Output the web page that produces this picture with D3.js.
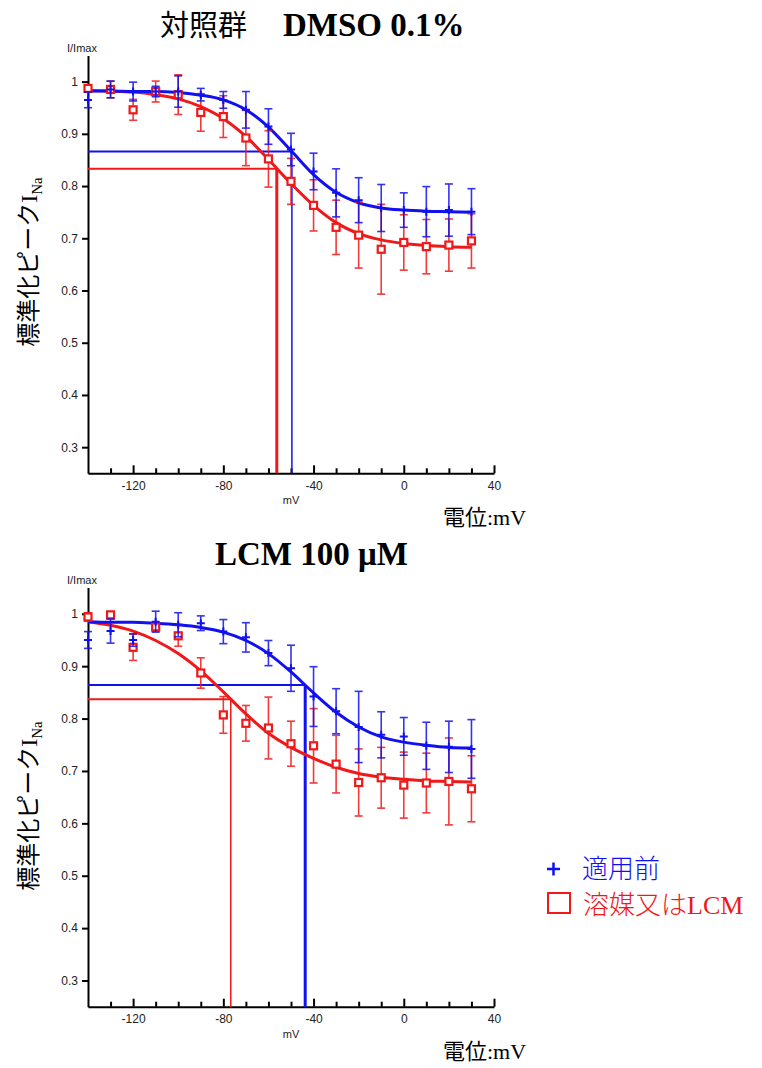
<!DOCTYPE html>
<html>
<head>
<meta charset="utf-8">
<script src="https://cdn.jsdelivr.net/npm/d3@7"></script>
<style>
  body { margin: 0; background: #fff; }
  .tick text { font-family: "Liberation Sans", Arial, sans-serif; font-size: 12px; fill: #222; }
</style>
</head>
<body>
<svg id="chart" width="762" height="1068"></svg>
<script>
// membrane potential steps (mV)
const mV = [-140, -130, -120, -110, -100, -90, -80, -70, -60, -50, -40, -30, -20, -10, 0, 10, 20, 30];

// control group, DMSO 0.1%
const ctrlPre     = [0.965, 0.985, 0.981, 0.981, 0.981, 0.975, 0.965, 0.946, 0.914, 0.870, 0.828, 0.787, 0.773, 0.758, 0.754, 0.751, 0.754, 0.751];
const ctrlPreErr  = [0.015, 0.016, 0.018, 0.010, 0.030, 0.012, 0.016, 0.035, 0.034, 0.031, 0.035, 0.046, 0.043, 0.045, 0.033, 0.048, 0.050, 0.044];
const ctrlPost    = [0.987, 0.985, 0.946, 0.981, 0.975, 0.941, 0.933, 0.892, 0.852, 0.809, 0.763, 0.721, 0.706, 0.679, 0.692, 0.684, 0.687, 0.695];
const ctrlPostErr = [0.006, 0.016, 0.020, 0.020, 0.038, 0.036, 0.040, 0.053, 0.054, 0.044, 0.049, 0.052, 0.063, 0.086, 0.053, 0.052, 0.050, 0.052];
const ctrlPreFit  = [0.982, 0.982, 0.981, 0.981, 0.979, 0.974, 0.965, 0.946, 0.913, 0.868, 0.822, 0.788, 0.768, 0.758, 0.754, 0.752, 0.751, 0.750];
const ctrlPostFit = [0.983, 0.982, 0.980, 0.975, 0.967, 0.952, 0.929, 0.895, 0.851, 0.805, 0.763, 0.730, 0.709, 0.697, 0.690, 0.686, 0.684, 0.683];
const ctrlV50     = [-49.6, -56.3];   // pre, post
const ctrlHalfI   = [0.866, 0.833];

// LCM 100 uM
const lcmPre      = [0.950, 0.967, 0.950, 0.985, 0.979, 0.982, 0.966, 0.955, 0.925, 0.896, 0.842, 0.814, 0.784, 0.769, 0.766, 0.748, 0.746, 0.742];
const lcmPreErr   = [0.016, 0.023, 0.012, 0.020, 0.023, 0.014, 0.023, 0.028, 0.024, 0.044, 0.057, 0.043, 0.068, 0.044, 0.036, 0.045, 0.049, 0.056];
const lcmPost     = [0.994, 0.998, 0.936, 0.975, 0.958, 0.887, 0.807, 0.791, 0.782, 0.752, 0.748, 0.713, 0.678, 0.687, 0.673, 0.677, 0.680, 0.666];
const lcmPostErr  = [0.008, 0.005, 0.025, 0.008, 0.020, 0.029, 0.035, 0.034, 0.059, 0.043, 0.071, 0.055, 0.064, 0.058, 0.063, 0.057, 0.083, 0.063];
const lcmPreFit   = [0.985, 0.984, 0.984, 0.982, 0.979, 0.974, 0.965, 0.949, 0.924, 0.889, 0.849, 0.812, 0.784, 0.765, 0.755, 0.749, 0.745, 0.744];
const lcmPostFit  = [0.985, 0.978, 0.967, 0.949, 0.924, 0.891, 0.851, 0.809, 0.772, 0.745, 0.724, 0.707, 0.695, 0.688, 0.684, 0.681, 0.680, 0.679];
const lcmV50      = [-43.7, -76.7];
const lcmHalfI    = [0.864, 0.837];

// axis ticks
const xMajor = [-120, -80, -40, 0, 40];
const xMinor = [-130, -110, -100, -90, -70, -60, -50, -30, -20, -10, 10, 20, 30];
const yTicks = [0.3, 0.4, 0.5, 0.6, 0.7, 0.8, 0.9, 1];

const BLUE = "#1010f0", RED = "#f01818";
const svg = d3.select("#chart");
const x = d3.scaleLinear().domain([-140, 40]).range([88, 494]);

function drawPanel(p) {
    const y = d3.scaleLinear().domain([0.25, 1.05]).range([p.bottom, p.top]);
    const g = svg.append("g");

    // title
    const t = g.append("text").attr("y", p.titleY).attr("fill", "#000");
    p.title.forEach(part => {
        t.append("tspan").attr("x", part.x)
            .attr("font-family", part.cjk ? "'Noto Sans CJK JP'" : "'Liberation Serif', serif")
            .attr("font-weight", part.cjk ? "normal" : "bold")
            .attr("font-size", part.cjk ? 29 : 33)
            .text(part.s);
    });

    // axes
    g.append("g").attr("transform", "translate(88,0)")
        .call(d3.axisLeft(y).tickValues(yTicks).tickSizeInner(6).tickSizeOuter(0).tickPadding(4)
            .tickFormat(d => d === 1 ? "1" : d.toFixed(1)));
    g.append("g").attr("transform", `translate(0,${p.bottom})`)
        .call(d3.axisBottom(x).tickValues(xMajor).tickSizeInner(-8).tickSizeOuter(0).tickPadding(8)
            .tickFormat(d => String(d)));
    g.append("g").attr("transform", `translate(0,${p.bottom})`)
        .call(d3.axisBottom(x).tickValues(xMinor).tickSizeInner(-5).tickSizeOuter(0).tickFormat(""))
        .select(".domain").remove();
    g.selectAll(".domain, .tick line").attr("stroke", "#000").attr("stroke-width", 2);

    g.append("text").attr("x", 67).attr("y", p.top - 4)
        .attr("font-family", "'Liberation Sans', Arial").attr("font-size", 11).attr("fill", "#222")
        .text("I/Imax");
    g.append("text").attr("x", 291).attr("y", p.bottom + 31).attr("text-anchor", "middle")
        .attr("font-family", "'Liberation Sans', Arial").attr("font-size", 11).attr("fill", "#222")
        .text("mV");
    g.append("text").attr("x", 443).attr("y", p.bottom + 52)
        .attr("font-family", "'Liberation Serif', 'Noto Sans CJK JP', serif").attr("font-size", 22)
        .text("電位:mV");

    const yl = g.append("text")
        .attr("transform", `translate(37,${p.labelY}) rotate(-90)`)
        .attr("text-anchor", "middle")
        .attr("font-family", "'Liberation Serif', 'Noto Sans CJK JP', serif").attr("font-size", 24);
    yl.append("tspan").attr("font-family", "'Noto Sans CJK JP'").text("標準化ピーク");
    yl.append("tspan").text("I");
    yl.append("tspan").attr("font-size", 15).attr("dy", 5).text("Na");

    // half-inactivation guide lines
    [BLUE, RED].forEach((c, i) => {
        g.append("line").attr("x1", x(-140)).attr("x2", x(p.v50[i]))
            .attr("y1", y(p.half[i])).attr("y2", y(p.half[i]))
            .attr("stroke", c).attr("stroke-width", 2);
        g.append("line").attr("x1", x(p.v50[i])).attr("x2", x(p.v50[i]))
            .attr("y1", y(p.half[i])).attr("y2", y(0.25))
            .attr("stroke", c).attr("stroke-width", p.guideW[i]);
    });

    const line = d3.line().x((d, i) => x(mV[i])).y(d => y(d)).curve(d3.curveMonotoneX);
    const series = [
        {vals: p.post, err: p.postErr, fit: p.postFit, color: RED, mark: "sq"},
        {vals: p.pre, err: p.preErr, fit: p.preFit, color: BLUE, mark: "plus"}
    ];

    series.forEach(s => {
        g.append("path").datum(s.fit).attr("d", line)
            .attr("fill", "none").attr("stroke", s.color).attr("stroke-width", 3);
    });

    series.forEach(s => {
        const eb = g.append("g").attr("stroke", s.color).attr("stroke-width", 1.6).attr("opacity", 0.85);
        s.vals.forEach((v, i) => {
            const cx = x(mV[i]), lo = y(v - s.err[i]), hi = y(v + s.err[i]);
            eb.append("line").attr("x1", cx).attr("x2", cx).attr("y1", lo).attr("y2", hi);
            eb.append("line").attr("x1", cx - 4).attr("x2", cx + 4).attr("y1", lo).attr("y2", lo);
            eb.append("line").attr("x1", cx - 4).attr("x2", cx + 4).attr("y1", hi).attr("y2", hi);
        });
        const mk = g.append("g");
        s.vals.forEach((v, i) => {
            const cx = x(mV[i]), cy = y(v);
            if (s.mark === "sq") {
                mk.append("rect").attr("x", cx - 3.5).attr("y", cy - 3.5).attr("width", 7).attr("height", 7)
                    .attr("fill", "#fff").attr("stroke", s.color).attr("stroke-width", 2.2);
            } else {
                mk.append("path").attr("d", `M${cx - 4},${cy}H${cx + 4}M${cx},${cy - 4}V${cy + 4}`)
                    .attr("stroke", s.color).attr("stroke-width", 2);
            }
        });
    });
}

drawPanel({
    top: 55.5, bottom: 473.3, titleY: 36, labelY: 262,
    title: [{s: "対照群", x: 160, cjk: true}, {s: "DMSO 0.1%", x: 283}],
    pre: ctrlPre, preErr: ctrlPreErr, post: ctrlPost, postErr: ctrlPostErr,
    preFit: ctrlPreFit, postFit: ctrlPostFit, v50: ctrlV50, half: ctrlHalfI, guideW: [1.5, 3]
});
drawPanel({
    top: 587.6, bottom: 1006.7, titleY: 565, labelY: 806,
    title: [{s: "LCM 100 μM", x: 215}],
    pre: lcmPre, preErr: lcmPreErr, post: lcmPost, postErr: lcmPostErr,
    preFit: lcmPreFit, postFit: lcmPostFit, v50: lcmV50, half: lcmHalfI, guideW: [3, 1.5]
});

// legend
const lg = svg.append("g").attr("font-family", "'Liberation Serif', 'Noto Sans CJK JP', serif").attr("font-size", 24);
lg.append("path").attr("d", "M547,869H560M553.5,862.5V875.5").attr("stroke", BLUE).attr("stroke-width", 2.5);
lg.append("text").attr("x", 582).attr("y", 878).attr("fill", BLUE)
    .append("tspan").attr("font-family", "'Noto Sans CJK JP'").attr("font-weight", 300).attr("font-size", 26).text("適用前");
lg.append("rect").attr("x", 548).attr("y", 893).attr("width", 22).attr("height", 20)
    .attr("fill", "none").attr("stroke", RED).attr("stroke-width", 2);
const lt = lg.append("text").attr("x", 583).attr("y", 914).attr("fill", RED);
lt.append("tspan").attr("font-family", "'Noto Sans CJK JP'").attr("font-weight", 300).attr("font-size", 26).text("溶媒又は");
lt.append("tspan").attr("font-size", 26).text("LCM");
</script>
</body>
</html>
